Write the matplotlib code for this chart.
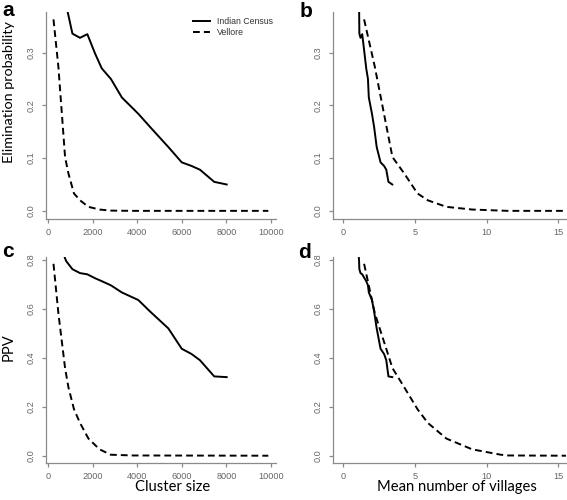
import matplotlib
matplotlib.use("Agg")
import matplotlib.pyplot as plt
from matplotlib.ticker import FormatStrFormatter

# ---------------- data ----------------
census_size = [650, 800, 1080, 1420, 1750, 2100, 2400, 2810, 3300, 4040,
               4570, 5390, 5990, 6440, 6810, 7450, 8010]
census_villages = [1.06, 1.10, 1.12, 1.20, 1.32, 1.48, 1.60, 1.72, 1.78, 2.00,
                   2.15, 2.33, 2.60, 2.85, 3.00, 3.15, 3.42]
census_elim = [0.43, 0.39, 0.336, 0.328, 0.335, 0.298, 0.270, 0.250, 0.215, 0.184,
               0.159, 0.121, 0.092, 0.085, 0.078, 0.055, 0.050]
census_ppv = [0.83, 0.795, 0.762, 0.746, 0.741, 0.725, 0.713, 0.696, 0.667, 0.636,
              0.589, 0.520, 0.437, 0.415, 0.390, 0.324, 0.321]

vellore_size = [230, 450, 750, 900, 1150, 1420, 1800, 2300, 2800, 3800, 9880]
vellore_villages = [1.45, 2.20, 3.43, 4.25, 5.18, 5.90, 7.20, 9.00, 11.0, 11.5, 15.6]
vellore_elim = [0.363, 0.273, 0.102, 0.071, 0.033, 0.020, 0.0076, 0.0025, 0.0005, 0.0, 0.0]
vellore_ppv = [0.784, 0.582, 0.358, 0.280, 0.190, 0.134, 0.070, 0.026, 0.004, 0.001, 0.0]

series_labels = ["Indian Census", "Vellore"]
panel_letters = ["a", "b", "c", "d"]
xlabels = ["Cluster size", "Mean number of villages"]
ylabels = ["Elimination probability", "PPV"]
size_ticks = [0, 2000, 4000, 6000, 8000, 10000]
village_ticks = [0, 5, 10, 15]
elim_ticks = [0.0, 0.1, 0.2, 0.3]
ppv_ticks = [0.0, 0.2, 0.4, 0.6, 0.8]

# ---------------- layout ----------------
W, H = 567, 500
fig = plt.figure(figsize=(W / 100, H / 100), dpi=100)

def px_axes(left, top, right, bottom):
    return fig.add_axes([left / W, 1 - bottom / H, (right - left) / W, (bottom - top) / H])

ax_a = px_axes(45.7, 12, 276, 219.3)
ax_b = px_axes(333.3, 12, 566, 219.3)
ax_c = px_axes(45.7, 256.7, 276, 463.3)
ax_d = px_axes(333.3, 256.7, 566, 463.3)

LW = 1.4
DASH = (0, (3.5, 2.1))
SPINE = "#8a8a8a"
TICKC = "#666666"
tick_font = "Liberation Sans"

panels = [
    (ax_a, census_size, census_elim, vellore_size, vellore_elim, (-120, 10225), (-0.016, 0.377), size_ticks, elim_ticks),
    (ax_b, census_villages, census_elim, vellore_villages, vellore_elim, (-0.7, 15.55), (-0.016, 0.377), village_ticks, elim_ticks),
    (ax_c, census_size, census_ppv, vellore_size, vellore_ppv, (-120, 10225), (-0.031, 0.813), size_ticks, ppv_ticks),
    (ax_d, census_villages, census_ppv, vellore_villages, vellore_ppv, (-0.7, 15.55), (-0.031, 0.813), village_ticks, ppv_ticks),
]

for ax, cx, cy, vx, vy, xl, yl, xt, yt in panels:
    ax.plot(cx, cy, color="black", lw=LW, solid_joinstyle="round", label=series_labels[0])
    ax.plot(vx, vy, color="black", lw=LW, linestyle=DASH, label=series_labels[1])
    ax.set_xlim(*xl)
    ax.set_ylim(*yl)
    ax.set_xticks(xt)
    ax.set_yticks(yt)
    ax.yaxis.set_major_formatter(FormatStrFormatter("%.1f"))
    for s in ["top", "right"]:
        ax.spines[s].set_visible(False)
    for s in ["left", "bottom"]:
        ax.spines[s].set_color(SPINE)
        ax.spines[s].set_linewidth(0.9)
    ax.tick_params(axis="both", colors=SPINE, labelcolor=TICKC, length=3.0, width=0.9,
                   labelsize=6.6)
    ax.tick_params(axis="x", pad=3.4)
    ax.tick_params(axis="y", pad=4.6)
    for lab in ax.get_yticklabels():
        lab.set_rotation(90)
        lab.set_va("center")
        lab.set_fontfamily(tick_font)
    for lab in ax.get_xticklabels():
        lab.set_fontfamily(tick_font)

# legend in panel a
leg = ax_a.legend(loc="upper left", bbox_to_anchor=(193 / W, 1 - 17 / H),
                  bbox_transform=fig.transFigure, frameon=False, borderpad=0,
                  borderaxespad=0, handlelength=1.95, handletextpad=0.8,
                  labelspacing=0.2, prop={"family": tick_font, "size": 6.3})
for t in leg.get_texts():
    t.set_color("#333333")

# panel letters
letter_pos = [(2, 16), (300, 17), (2, 257), (298, 258)]
for letter, (x, y) in zip(panel_letters, letter_pos):
    fig.text(x / W, 1 - y / H, letter, fontsize=15, fontweight="bold",
             family=tick_font, ha="left", va="baseline")

# axis labels
lab_font = "Lato"
fig.text(9 / W, 1 - 92 / H, ylabels[0], rotation=90, ha="center", va="center",
         fontsize=10.4, family=lab_font)
fig.text(9 / W, 1 - 347 / H, ylabels[1], rotation=90, ha="center", va="center",
         fontsize=10.6, family=lab_font)
fig.text(173 / W, 1 - 487 / H, xlabels[0], ha="center", va="center",
         fontsize=10.6, family=lab_font)
fig.text(457 / W, 1 - 487 / H, xlabels[1], ha="center", va="center",
         fontsize=10.6, family=lab_font)

fig.savefig("out.png", dpi=100)
